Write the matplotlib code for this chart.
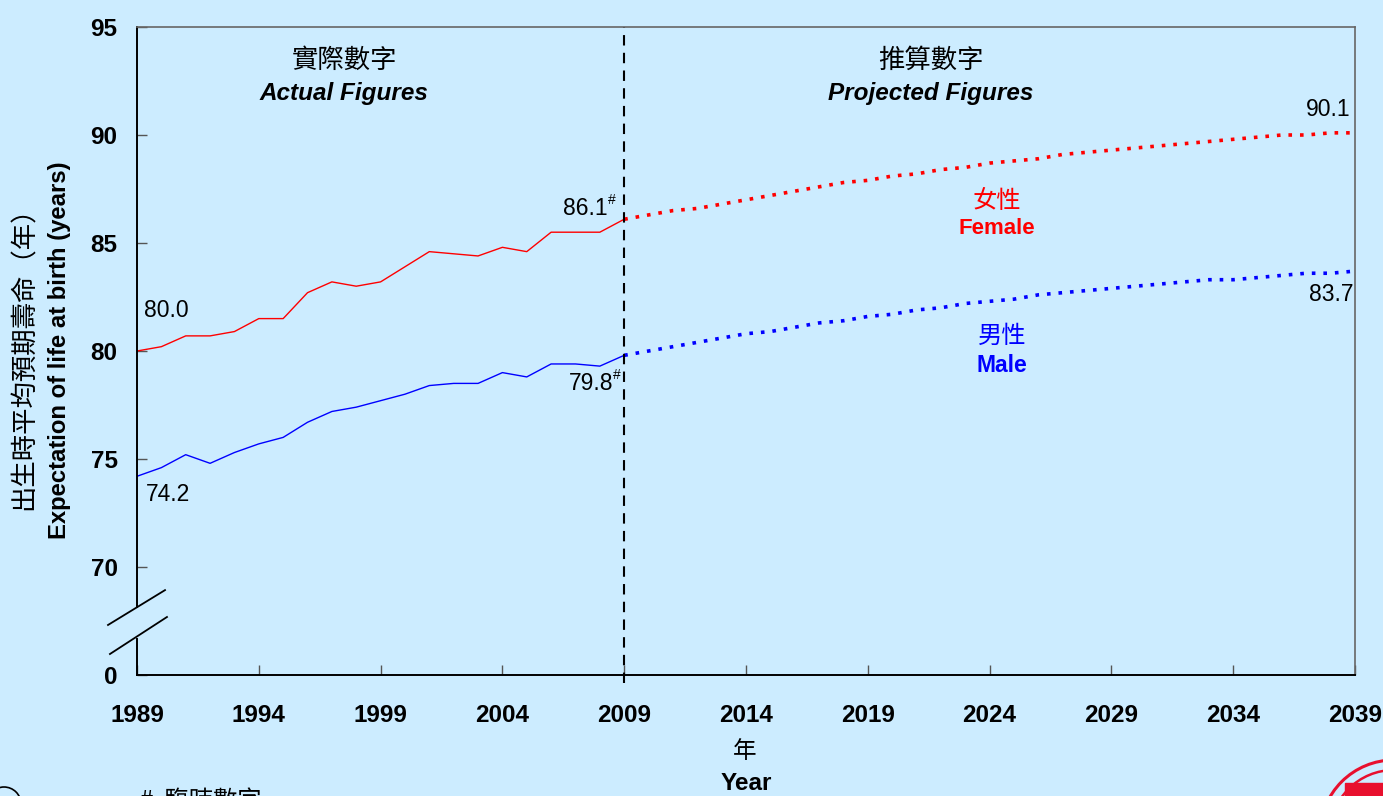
import numpy as np
import matplotlib
matplotlib.use("Agg")
import matplotlib.pyplot as plt
from matplotlib.patches import Circle, Rectangle

# actual figures 1989-2009
years_actual = list(range(1989, 2010))
female_actual = [80.0, 80.2, 80.7, 80.7, 80.9, 81.5, 81.5, 82.7, 83.2, 83.0, 83.2,
                 83.9, 84.6, 84.5, 84.4, 84.8, 84.6, 85.5, 85.5, 85.5, 86.1]
male_actual = [74.2, 74.6, 75.2, 74.8, 75.3, 75.7, 76.0, 76.7, 77.2, 77.4, 77.7,
               78.0, 78.4, 78.5, 78.5, 79.0, 78.8, 79.4, 79.4, 79.3, 79.8]

# projected figures 2009-2039
years_proj = list(range(2009, 2040))
female_proj = [86.1, 86.3, 86.5, 86.6, 86.8, 87.0, 87.2, 87.4, 87.6, 87.8, 87.9,
               88.1, 88.2, 88.4, 88.5, 88.7, 88.8, 88.9, 89.1, 89.2, 89.3,
               89.4, 89.5, 89.6, 89.7, 89.8, 89.9, 90.0, 90.0, 90.1, 90.1]
male_proj = [79.8, 80.0, 80.2, 80.4, 80.6, 80.8, 80.9, 81.1, 81.3, 81.4, 81.6,
             81.7, 81.9, 82.0, 82.2, 82.3, 82.4, 82.6, 82.7, 82.8, 82.9,
             83.0, 83.1, 83.2, 83.3, 83.3, 83.4, 83.5, 83.6, 83.6, 83.7]

xticks = list(range(1989, 2040, 5))
yticks = [65, 70, 75, 80, 85, 90, 95]
ytick_labels = ["0", "70", "75", "80", "85", "90", "95"]

EN = ["Liberation Sans", "Noto Sans CJK TC"]
ZH = ["Noto Sans CJK TC", "Liberation Sans"]
BG = "#CCECFF"
RED = "#FF0000"
BLUE = "#0000FF"

fig = plt.figure(figsize=(13.83, 7.96), dpi=100, facecolor=BG)
ax = fig.add_axes([137/1383, 1-675/796, (1355-137)/1383, (675-27)/796])
ax.set_facecolor(BG)

ax.plot(years_actual, female_actual, color=RED, lw=1.0)
ax.plot(years_actual, male_actual, color=BLUE, lw=1.0)
ax.plot(years_proj, female_proj, color=RED, lw=2.6, linestyle=(0, (1, 2.2)))
ax.plot(years_proj, male_proj, color=BLUE, lw=2.6, linestyle=(0, (1, 2.2)))

ax.set_xlim(1989, 2039)
ax.set_ylim(65, 95)
ax.set_xticks(xticks)
ax.set_yticks(yticks)
ax.set_yticklabels(ytick_labels)
ax.tick_params(axis="x", direction="in", length=7, width=1, pad=21, colors="#555555",
               labelcolor="black")
ax.tick_params(axis="y", direction="in", length=7, width=1, pad=14, colors="#555555",
               labelcolor="black")
for lab in ax.get_xticklabels() + ax.get_yticklabels():
    lab.set_family(EN)
    lab.set_fontweight("bold")
    lab.set_fontsize(17.5)

for s in ["top", "right"]:
    ax.spines[s].set_color("#666666")
    ax.spines[s].set_linewidth(1.2)
for s in ["left", "bottom"]:
    ax.spines[s].set_color("black")
    ax.spines[s].set_linewidth(1.4)

# broken y axis
ax.spines["left"].set_bounds(65 + 30 * 0.105, 95)
ax.plot([0, 0], [0, 0.0556], color="black", lw=1.4, transform=ax.transAxes, clip_on=False)
ax.plot([-0.0238, 0.023], [0.0772, 0.131], color="black", lw=1.3,
        transform=ax.transAxes, clip_on=False)
ax.plot([-0.0222, 0.0246], [0.0324, 0.0895], color="black", lw=1.3,
        transform=ax.transAxes, clip_on=False)

# actual / projected divider
ax.plot([2009, 2009], [-0.012, 1], color="black", lw=1.5, linestyle=(0, (5, 3.5)),
        transform=ax.get_xaxis_transform(), clip_on=False)

# section headers
ax.text(1997.5, 93.45, "實際數字", family=ZH, style="italic", fontsize=19,
        ha="center", va="center")
ax.text(1997.5, 91.9, "Actual Figures", family=EN, style="italic", weight="bold",
        fontsize=17.5, ha="center", va="center")
ax.text(2021.6, 93.45, "推算數字", family=ZH, style="italic", fontsize=19,
        ha="center", va="center")
ax.text(2021.6, 91.9, "Projected Figures", family=EN, style="italic", weight="bold",
        fontsize=17.5, ha="center", va="center")

# series labels
ax.text(2024.3, 86.95, "女性", family=ZH, color=RED, fontsize=17.5, ha="center", va="center")
ax.text(2024.3, 85.65, "Female", family=EN, color=RED, weight="bold", fontsize=16,
        ha="center", va="center")
ax.text(2024.5, 80.7, "男性", family=ZH, color=BLUE, fontsize=17.5, ha="center", va="center")
ax.text(2024.5, 79.35, "Male", family=EN, color=BLUE, weight="bold", fontsize=16.5,
        ha="center", va="center")

# value labels
def vlabel(x, y, txt, dx, dy, sup=False):
    t = ax.annotate(txt, (x, y), xytext=(dx, dy), textcoords="offset points",
                    family=EN, fontsize=16.5, ha="center", va="center")
    if sup:
        ax.annotate("#", (x, y), xytext=(dx + 19, dy + 6), textcoords="offset points",
                    family=EN, fontsize=10, ha="center", va="center")
    return t

vlabel(years_actual[0], female_actual[0], "%.1f" % female_actual[0], 21, 29)
vlabel(years_actual[0], male_actual[0], "%.1f" % male_actual[0], 22, -13)
vlabel(years_actual[-1], female_actual[-1], "%.1f" % female_actual[-1], -28, 8, sup=True)
vlabel(years_actual[-1], male_actual[-1], "%.1f" % male_actual[-1], -24, -20, sup=True)
vlabel(years_proj[-1], female_proj[-1], "%.1f" % female_proj[-1], -19, 17)
vlabel(years_proj[-1], male_proj[-1], "%.1f" % male_proj[-1], -17, -17)

# axis titles
fig.text(24/1383, 1-352/796, "出生時平均預期壽命（年）", family=ZH, fontsize=19,
         rotation=90, ha="center", va="center")
fig.text(60/1383, 1-350/796, "Expectation of life at birth (years)", family=EN,
         weight="bold", fontsize=17.2, rotation=90, ha="center", va="center")
fig.text(745/1383, 1-752/796, "年", family=ZH, fontsize=17, ha="center", va="center")
fig.text(746/1383, 1-784/796, "Year", family=EN, weight="bold", fontsize=17.5,
         ha="center", va="center")

# footnote (cut off at bottom edge, as in the source)
fig.text(140/1383, 8/796, "#  臨時數字", family=ZH, fontsize=17.5, ha="left", va="top")
fig.patches.append(Circle((4, -8), 17, transform=None, fill=False, ec="black", lw=1.2))

# logo, partially visible at lower right
for r, w in [(74, 2.2), (64, 1.8)]:
    fig.patches.append(Circle((1394, 796 - 834), r, transform=None, fill=False,
                              ec="#E8102E", lw=w))
fig.patches.append(Rectangle((1345, -10), 45, 23, transform=None, color="#E8102E"))

fig.savefig("out.png", dpi=100, facecolor=BG)
